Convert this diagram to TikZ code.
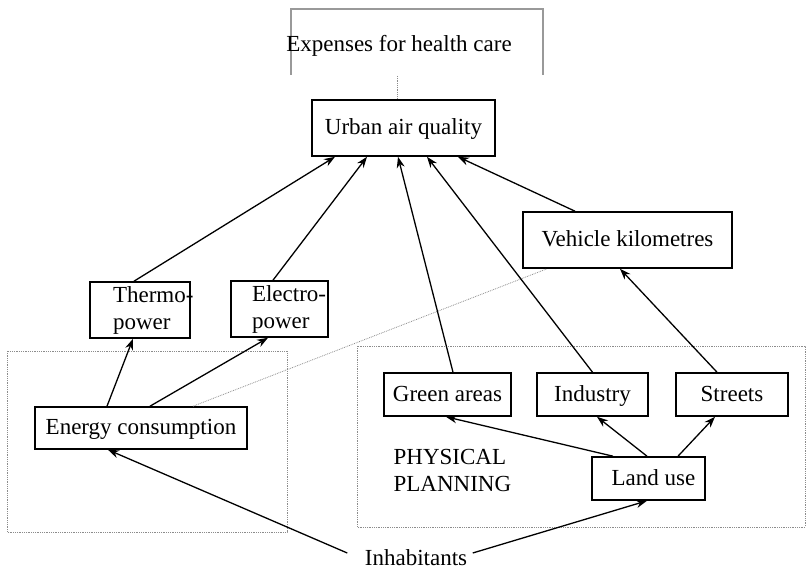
\documentclass[tikz,border=0pt]{standalone}
\usepackage{fontspec}
\setmainfont{Liberation Serif}
\usetikzlibrary{arrows.meta}

\begin{document}
\begin{tikzpicture}[x = 1pt, y = -1pt, % pixel grid of the page
                > = {Stealth[length=11pt, width=8pt]}, % arrow head style
                line width = 1.3pt % line style
            ]

            \tikzstyle{every node}=[font=\fontsize{23}{27}\selectfont, inner sep = 0pt]
            \tikzstyle{box}=[draw = black, line width = 1.6pt, rectangle,
            minimum height = 56pt]
            \tikzstyle{single}=[box, text height = 18pt, text depth = 4pt]
            \tikzstyle{frame}=[draw = black!45, line width = 0.8pt, densely dotted]

            \useasboundingbox (0,0) rectangle (807,572);

            % frames of the two groups
            \draw[frame] (7,351) rectangle (287,532);
            \draw[frame] (357,346) rectangle (805,527);

            % open gray box at the top
            \draw[black!40, line width = 2.4pt] (291,75) -- (291,9) -- (543,9) -- (543,75);
            \node (exp) at (399,46) {Expenses for health care};
            \coordinate (expb) at (397,76);

            \node (urban) [single, minimum width = 183pt] at (403.5,128) {Urban air quality};
            \node (thermo) [box, text width = 54pt, inner xsep = 23pt, align = left]
            at (140,310) {\hbox{Thermo-}\\power};
            \node (electro) [box, text width = 55pt, inner xsep = 21pt, align = left]
            at (279.5,309) {\hbox{Electro-}\\power};
            \node (vehicle) [single, minimum width = 209pt] at (627.5,240) {Vehicle kilometres};
            \node (energy) [single, minimum width = 212pt, minimum height = 42pt]
            at (141,428) {Energy consumption};
            \node (green) [single, minimum width = 127pt, minimum height = 43pt]
            at (447.5,394.5) {Green areas};
            \node (industry) [single, minimum width = 111pt, minimum height = 43pt]
            at (592.5,394.5) {Industry};
            \node (streets) [single, minimum width = 112pt, minimum height = 43pt]
            at (732,394.5) {Streets};
            \node (landuse) [single, minimum width = 113pt, minimum height = 43pt]
            at (648.5,478.5) {\hspace{10pt}Land use};
            \node (plan) [align = left, anchor = west] at (393,470) {PHYSICAL\\PLANNING};
            \node (inhab) at (416,558) {Inhabitants};

            \draw[frame] (expb) -- (expb |- urban.north);
            \draw[frame] ([xshift=52pt]energy.north) -- ([xshift=-80.5pt]vehicle.south);

            \path[->] ([xshift=-6pt]thermo.north) edge ([xshift=-68.5pt]urban.south);
            \path[->] ([xshift=-6.5pt]electro.north) edge ([xshift=-36.5pt]urban.south);
            \path[->] ([xshift=5.5pt]green.north) edge ([xshift=-5.5pt]urban.south);
            \path[->] (industry.north) edge ([xshift=23.5pt]urban.south);
            \path[->] ([xshift=-52.5pt]vehicle.north) edge ([xshift=54.5pt]urban.south);
            \path[->] ([xshift=-15pt]streets.north) edge ([xshift=-7.5pt]vehicle.south);
            \path[->] ([xshift=-34pt]energy.north) edge ([xshift=-7pt]thermo.south);
            \path[->] ([xshift=9pt]energy.north) edge ([xshift=-11.5pt]electro.south);
            \path[->] ([xshift=-35.5pt]landuse.north) edge ([xshift=-1.5pt]green.south);
            \path[->] ([xshift=-1.5pt]landuse.north) edge ([xshift=4.5pt]industry.south);
            \path[->] ([xshift=29.5pt]landuse.north) edge ([xshift=-17pt]streets.south);
            \path[->] ([xshift=-17pt,yshift=5pt]inhab.west) edge ([xshift=-33pt]energy.south);
            \path[->] ([xshift=5pt,yshift=5pt]inhab.east) edge ([xshift=-1.5pt]landuse.south);
        \end{tikzpicture}
\end{document}
